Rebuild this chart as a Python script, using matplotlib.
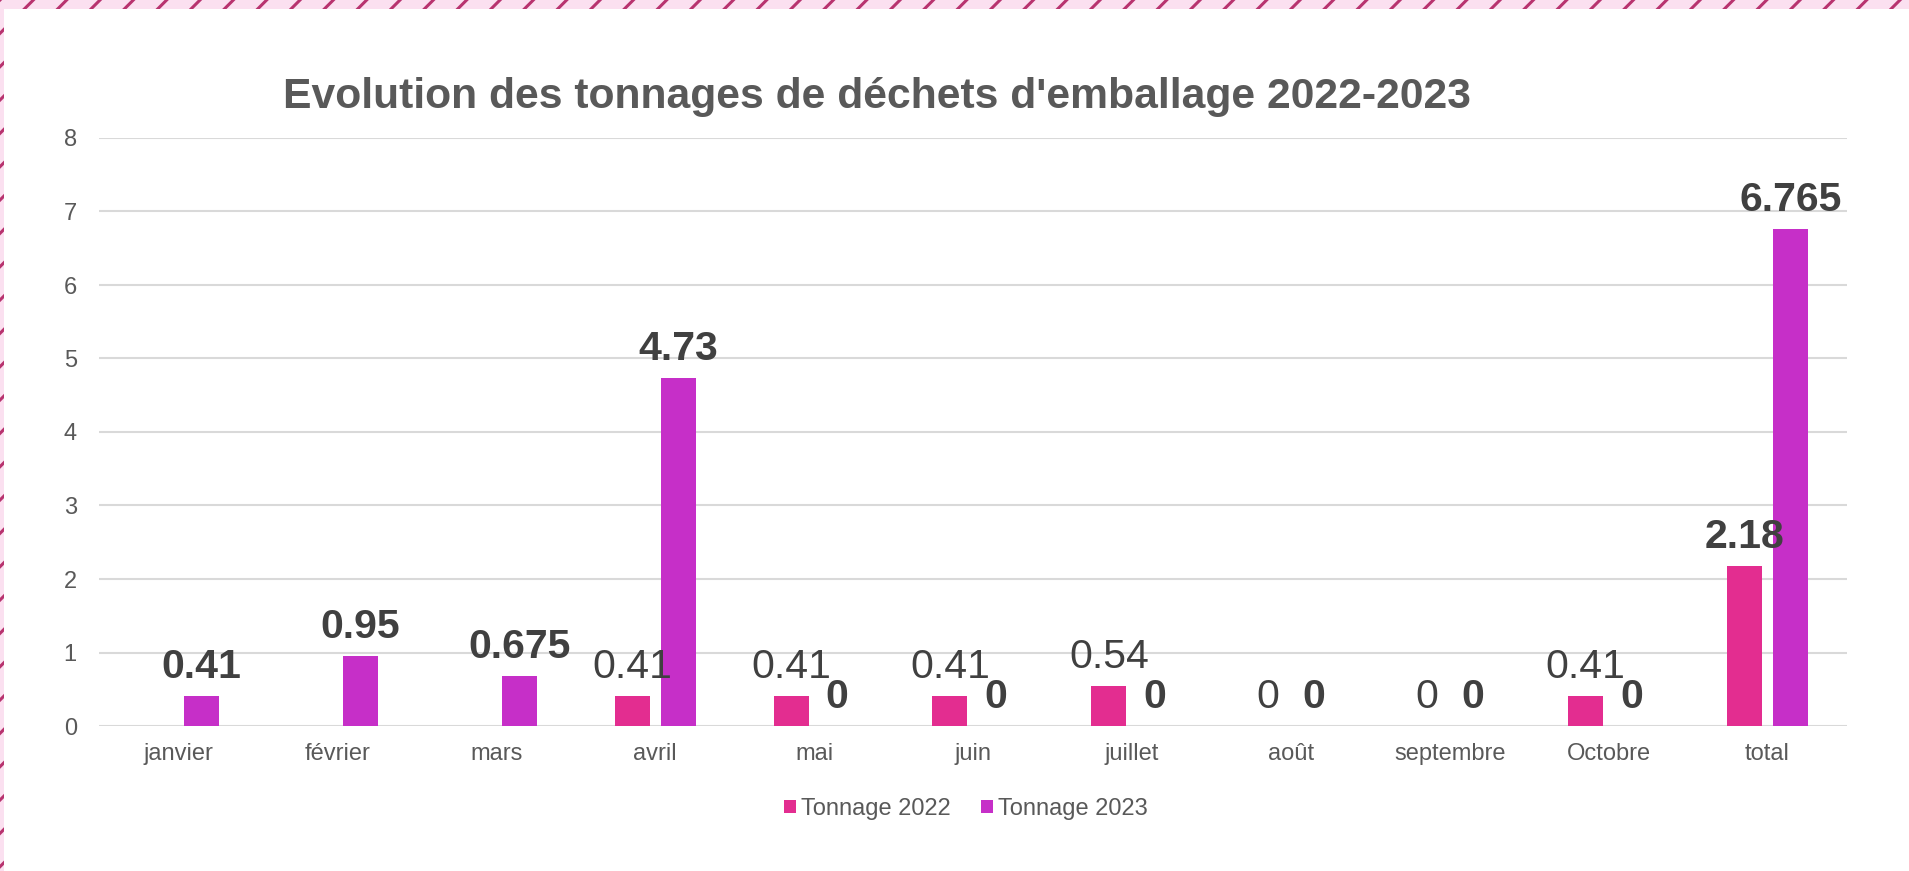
import matplotlib
matplotlib.use("Agg")
import matplotlib.pyplot as plt
import numpy as np
from matplotlib.patches import Rectangle

plt.rcParams['font.family'] = ['Liberation Sans', 'DejaVu Sans']

categories = ["janvier", "février", "mars", "avril", "mai", "juin", "juillet",
              "août", "septembre", "Octobre", "total"]
tonnage_2022 = [np.nan, np.nan, np.nan, 0.41, 0.41, 0.41, 0.54, 0, 0, 0.41, 2.18]
tonnage_2023 = [0.41, 0.95, 0.675, 4.73, 0, 0, 0, 0, 0, 0, 6.765]
labels_2022 = ["", "", "", "0.41", "0.41", "0.41", "0.54", "0", "0", "0.41", "2.18"]
labels_2023 = ["0.41", "0.95", "0.675", "4.73", "0", "0", "0", "0", "0", "0", "6.765"]
series_names = ["Tonnage 2022", "Tonnage 2023"]
title = "Evolution des tonnages de déchets d'emballage 2022-2023"
yticks = [0, 1, 2, 3, 4, 5, 6, 7, 8]

W, H = 1909, 871
fig = plt.figure(figsize=(W / 100, H / 100), dpi=100)
fig.patch.set_facecolor("white")

ax = fig.add_axes([99 / W, 145 / H, 1748 / W, 588 / H])
c22 = "#E32D90"
c23 = "#C62FC8"
x = np.arange(len(categories))
bw = 0.22
off = 0.145
b1 = ax.bar(x - off, tonnage_2022, bw, color=c22, label=series_names[0], zorder=3)
b2 = ax.bar(x + off, tonnage_2023, bw, color=c23, label=series_names[1], zorder=3)

ax.set_xlim(-0.5, len(categories) - 0.5)
ax.set_ylim(0, 8)
ax.set_yticks(yticks)
ax.set_xticks(x)
ax.set_xticklabels(categories)
ax.grid(axis="y", color="#D9D9D9", linewidth=1.5, zorder=0)
ax.set_axisbelow(True)
for s in ax.spines.values():
    s.set_visible(False)
ax.tick_params(axis="y", length=0, pad=16, labelsize=17, labelcolor="#595959")
ax.tick_params(axis="x", length=0, pad=12, labelsize=17, labelcolor="#595959")

lab_col = "#404040"
for i in range(len(categories)):
    v = tonnage_2022[i]
    if not np.isnan(v):
        ax.annotate(labels_2022[i], (x[i] - off, v), xytext=(0, 13),
                    textcoords="offset points", ha="center", va="baseline",
                    fontsize=29.5, color=lab_col,
                    fontweight="bold" if categories[i] == "total" else "normal",
                    zorder=5)
    v = tonnage_2023[i]
    ax.annotate(labels_2023[i], (x[i] + off, v), xytext=(0, 13),
                textcoords="offset points", ha="center", va="baseline",
                fontsize=29.5, color=lab_col, fontweight="bold", zorder=5)

fig.text(877 / W, (H - 108) / H, title, ha="center", va="baseline",
         fontsize=30.7, fontweight="bold", color="#595959")

leg = fig.legend(handles=[b1, b2], labels=series_names, loc="center",
                 bbox_to_anchor=(966 / W, 62 / H), ncol=2, frameon=False,
                 fontsize=17, handlelength=0.5, handleheight=0.5,
                 handletextpad=0.2, columnspacing=1.3)
for t in leg.get_texts():
    t.set_color("#595959")

# hatched pink border (top and left)
plt.rcParams['hatch.linewidth'] = 2.2
top = Rectangle((0, (H - 9) / H), 1, 9 / H, transform=fig.transFigure,
                facecolor="#FBE0F0", edgecolor="#B8336F", linewidth=0,
                hatch="/", zorder=10)
left = Rectangle((0, 0), 4 / W, 1, transform=fig.transFigure,
                 facecolor="#FBE0F0", edgecolor="#B8336F", linewidth=0,
                 hatch="/", zorder=10)
fig.patches.extend([top, left])

fig.savefig("out.png", dpi=100, facecolor="white")
